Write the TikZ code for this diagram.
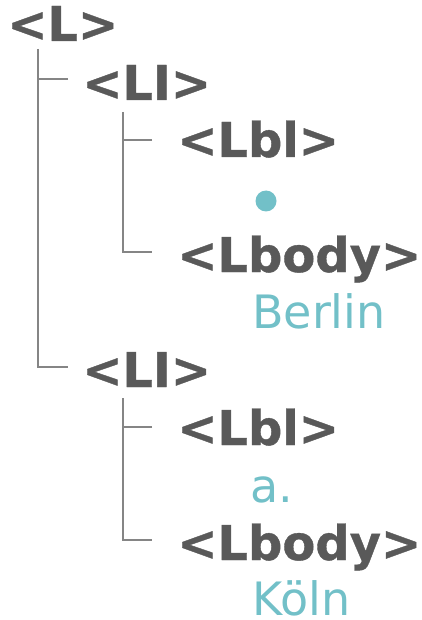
\documentclass[tikz,border=0pt]{standalone}
\usepackage{fontspec}
\setmainfont{DejaVu Sans}
\newfontfamily\tagfont[FakeBold=0.8]{DejaVu Sans Bold}
\definecolor{tagc}{HTML}{595959}
\definecolor{linec}{HTML}{858585}
\definecolor{tealc}{HTML}{72C0C8}
\tikzset{
  tag/.style={anchor=base west, inner sep=0pt, text=tagc, font=\fontsize{48}{48}\tagfont},
  content/.style={anchor=base west, inner sep=0pt, text depth=0pt, text=tealc, font=\fontsize{46}{46}\selectfont},
  conn/.style={draw=linec, line width=2pt},
}
\begin{document}
\begin{tikzpicture}[x=1pt,y=1pt]
\useasboundingbox (0,0) rectangle (421,-620);
\node[tag] (L) at (7,-41) {<L>};
\node[tag] (LI1) at (82,-100) {<LI>};
\node[tag] (Lbl1) at (177,-157) {<Lbl>};
\node[circle, fill=tealc, inner sep=0pt, minimum size=21pt] (dot) at (266,-201) {};
\node[tag] (Lbody1) at (177,-272) {<Lbody>};
\node[content] (berlin) at (252,-328) {Berlin};
\node[tag] (LI2) at (82,-387) {<LI>};
\node[tag] (Lbl2) at (177,-445) {<Lbl>};
\node[content] (a) at (250,-502) {a.};
\node[tag] (Lbody2) at (177,-560) {<Lbody>};
\node[content] (koeln) at (252,-615) {Köln};
% level 1
\draw[conn] ([xshift=31pt,yshift=-8pt]L.base west) |- ([xshift=-14pt,yshift=20pt]LI2.base west);
\draw[conn] ([xshift=-14pt,yshift=21pt]LI1.base west) -- ([xshift=-45pt,yshift=21pt]LI1.base west);
% level 2 (first item)
\draw[conn] ([xshift=41pt,yshift=-12pt]LI1.base west) |- ([xshift=-25pt,yshift=20pt]Lbody1.base west);
\draw[conn] ([xshift=-25pt,yshift=17pt]Lbl1.base west) -- ([xshift=-55pt,yshift=17pt]Lbl1.base west);
% level 2 (second item)
\draw[conn] ([xshift=41pt,yshift=-11pt]LI2.base west) |- ([xshift=-25pt,yshift=20pt]Lbody2.base west);
\draw[conn] ([xshift=-25pt,yshift=18pt]Lbl2.base west) -- ([xshift=-55pt,yshift=18pt]Lbl2.base west);
\end{tikzpicture}
\end{document}
